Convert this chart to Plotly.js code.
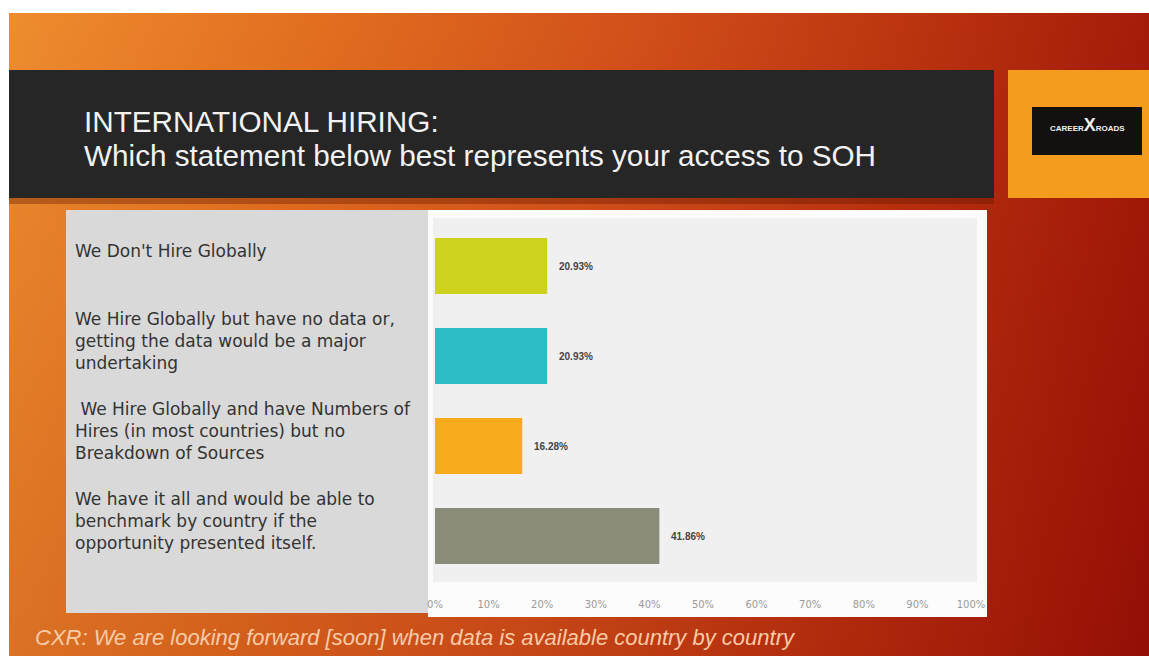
<!DOCTYPE html>
<html><head><meta charset="utf-8">
<script src="https://cdn.plot.ly/plotly-3.0.1.min.js"></script>
<style>
html,body{margin:0;padding:0;background:#fff;overflow:hidden}
#bg{position:absolute;left:9px;top:13px;width:1140px;height:643px;
background:linear-gradient(to bottom, rgba(0,0,0,0) 0%, rgba(110,0,0,0.12) 100%),
linear-gradient(100deg,#EE8C2E 0%,#E26E20 25%,#D2501A 50%,#B8300E 75%,#9A1006 100%);}
#chart{position:absolute;left:0;top:0;width:1149px;height:656px}
</style></head><body>
<div id="bg"></div><div id="chart"></div>
<script>
const categories = ["Don't hire globally", "No data", "Numbers, no sources", "Have it all"];
const labelText = [
  "We Don't Hire Globally",
  "We Hire Globally but have no data or,<br>getting the data would be a major<br>undertaking",
  "\u00a0We Hire Globally and have Numbers of<br>Hires (in most countries) but no<br>Breakdown of Sources",
  "We have it all and would be able to<br>benchmark by country if the<br>opportunity presented itself."
];
const values = [20.93, 20.93, 16.28, 41.86];
const valueLabels = ["20.93%", "20.93%", "16.28%", "41.86%"];
const barColors = ["#CDD21E", "#2CBDC7", "#F6AA1C", "#8A8B78"];
const tickValues = [0, 10, 20, 30, 40, 50, 60, 70, 80, 90, 100];
const tickLabels = ["0%", "10%", "20%", "30%", "40%", "50%", "60%", "70%", "80%", "90%", "100%"];
const titleLines = ["INTERNATIONAL HIRING:", "Which statement below best represents your access to SOH"];
const footnote = "CXR: We are looking forward [soon] when data is available country by country";

const W = 1149, H = 656;
const px = x => x / W;
const py = y => 1 - y / H;
function rect(x0, y0, x1, y1, fill) {
  return {type: 'rect', xref: 'paper', yref: 'paper', x0: px(x0), x1: px(x1), y0: py(y1), y1: py(y0),
    fillcolor: fill, line: {width: 0}, layer: 'below'};
}

const trace = {
  type: 'bar', orientation: 'h', x: values, y: categories,
  marker: {color: barColors, line: {width: 0}},
  hoverinfo: 'skip', showlegend: false
};

const annotations = [];
categories.forEach((c, i) => {
  annotations.push({xref: 'paper', yref: 'y', x: px(73), y: c, xanchor: 'left', yanchor: 'middle',
    yshift: 15, align: 'left', showarrow: false, text: labelText[i],
    font: {family: 'DejaVu Sans', size: 17, color: '#333333'}});
  annotations.push({xref: 'x', yref: 'y', x: values[i], y: c, xanchor: 'left', yanchor: 'middle',
    xshift: 10, showarrow: false, text: '<b>' + valueLabels[i] + '</b>',
    font: {family: 'Liberation Sans, Arial', size: 10, color: '#444444'}});
});
annotations.push({xref: 'paper', yref: 'paper', x: px(82), y: py(121), xanchor: 'left', yanchor: 'middle',
  showarrow: false, text: titleLines[0], font: {family: 'Liberation Sans, Arial', size: 29.7, color: '#F2F2F2'}});
annotations.push({xref: 'paper', yref: 'paper', x: px(82), y: py(155), xanchor: 'left', yanchor: 'middle',
  showarrow: false, text: titleLines[1], font: {family: 'Liberation Sans, Arial', size: 29.7, color: '#F2F2F2'}});
annotations.push({xref: 'paper', yref: 'paper', x: px(33), y: py(637), xanchor: 'left', yanchor: 'middle',
  showarrow: false, text: '<i>' + footnote + '</i>', font: {family: 'Liberation Sans, Arial', size: 22, color: '#F8CBA8'}});
annotations.push({xref: 'paper', yref: 'paper', x: px(1087), y: py(125), xanchor: 'center', yanchor: 'middle',
  showarrow: false, text: '<b>CAREER</b><b><span style="font-size:18px">X</span></b><b>ROADS</b>',
  font: {family: 'Liberation Sans Narrow, Liberation Sans, Arial', size: 8, color: '#F0F0F0'}});

const layout = {
  width: W, height: H,
  margin: {l: 0, r: 0, t: 0, b: 0},
  paper_bgcolor: 'rgba(0,0,0,0)', plot_bgcolor: 'rgba(0,0,0,0)',
  bargap: 0.378,
  xaxis: {domain: [px(435), px(971)], range: [0, 100], tickvals: tickValues, ticktext: tickLabels,
    showgrid: false, zeroline: false, showline: false, ticks: 'outside', ticklen: 14, tickcolor: 'rgba(0,0,0,0)',
    tickfont: {family: 'DejaVu Sans', size: 10, color: '#9A9A9A'}, fixedrange: true, automargin: false},
  yaxis: {domain: [py(581), py(221)], range: [3.5, -0.5], autorange: false, showticklabels: false, showgrid: false,
    zeroline: false, showline: false, fixedrange: true, automargin: false},
  shapes: [
    rect(9, 70, 994, 198, '#262626'),
    rect(9, 198, 994, 204, 'rgba(90,20,0,0.35)'),
    rect(1008, 70, 1149, 198, '#F39C1E'),
    rect(1032, 107, 1142, 155, '#141010'),
    rect(66, 210, 428, 613, '#D9D9D9'),
    rect(428, 210, 987, 617, '#FCFCFC'),
    rect(433, 218, 977, 582, '#F0F0F0')
  ],
  annotations: annotations
};
Plotly.newPlot('chart', [trace], layout, {displayModeBar: false, staticPlot: true});
</script></body></html>
